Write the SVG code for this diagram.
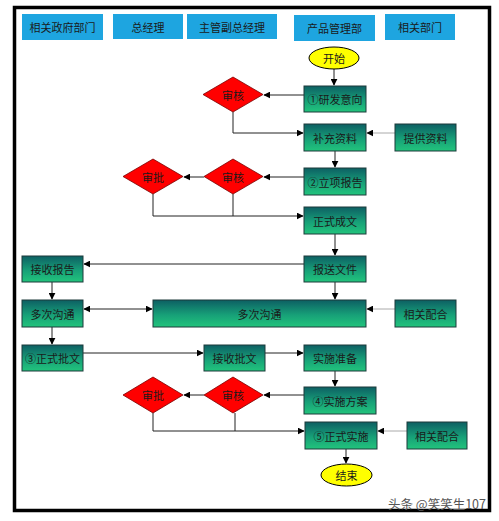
<svg xmlns="http://www.w3.org/2000/svg" width="499" height="521" viewBox="0 0 499 521">
<defs>
<linearGradient id="g" x1="0" y1="0" x2="0" y2="1">
<stop offset="0" stop-color="#0d5f63"/>
<stop offset="0.55" stop-color="#17a078"/>
<stop offset="1" stop-color="#22c47c"/>
</linearGradient>
<marker id="a" viewBox="0 0 10 10" refX="9" refY="5" markerWidth="7" markerHeight="7" orient="auto-start-reverse" markerUnits="userSpaceOnUse">
<path d="M0,0 L10,5 L0,10 z" fill="#000"/>
</marker>
</defs>
<style>
text{font-family:"Noto Sans CJK SC","Liberation Sans",sans-serif;font-size:11px;text-anchor:middle;dominant-baseline:central;fill:#1a1a1a}
.h rect{fill:#1ea5e0}
.b rect{fill:url(#g);stroke:#1c3b3b;stroke-width:1}
.d polygon{fill:#ff0000;stroke:#7a0000;stroke-width:0.8}
.e ellipse{fill:#ffff00;stroke:#000;stroke-width:1}
.c path{fill:none;stroke:#222;stroke-width:1}
.c path.gr{stroke:#aaa}
.wm{font-family:"Noto Sans CJK SC",sans-serif;font-size:12.5px;fill:#555}
</style>
<rect x="0" y="0" width="499" height="521" fill="#fff"/>
<rect x="14.5" y="7.5" width="475" height="503" fill="none" stroke="#000" stroke-width="3.5"/>

<g id="h1" class="h"><rect x="22" y="14" width="81" height="26"/><text x="62.5" y="27">相关政府部门</text></g>
<g id="h2" class="h"><rect x="113" y="14" width="70" height="25"/><text x="148" y="26.5">总经理</text></g>
<g id="h3" class="h"><rect x="187" y="14" width="90" height="25"/><text x="232" y="26.5">主管副总经理</text></g>
<g id="h4" class="h"><rect x="294" y="15" width="81" height="26"/><text x="334.5" y="28">产品管理部</text></g>
<g id="h5" class="h"><rect x="385" y="14" width="70" height="26"/><text x="420" y="27">相关部门</text></g>

<g id="connectors" class="c">
<path d="M334,69 V85" marker-end="url(#a)"/>
<path d="M304,95 H264" marker-end="url(#a)"/>
<path d="M233,112 V133 H303" marker-end="url(#a)"/>
<path class="gr" d="M395,133 H367" marker-end="url(#a)"/>
<path d="M335,151 V167" marker-end="url(#a)"/>
<path d="M304,177 H264" marker-end="url(#a)"/>
<path d="M204,177 H184" marker-end="url(#a)"/>
<path d="M153,194 V216 H303" marker-end="url(#a)"/>
<path d="M233,194 V216"/>
<path d="M335,234 V255" marker-end="url(#a)"/>
<path d="M304,264 H84" marker-end="url(#a)"/>
<path d="M52,282 V299" marker-end="url(#a)"/>
<path d="M335,282 V299" marker-end="url(#a)"/>
<path d="M84,309 H152" marker-start="url(#a)" marker-end="url(#a)"/>
<path class="gr" d="M395,309 H367" marker-end="url(#a)"/>
<path d="M52,327 V344" marker-end="url(#a)"/>
<path d="M83,353 H203" marker-end="url(#a)"/>
<path d="M265,353 H303" marker-end="url(#a)"/>
<path d="M335,371 V386" marker-end="url(#a)"/>
<path d="M304,395 H264" marker-end="url(#a)"/>
<path d="M204,395 H184" marker-end="url(#a)"/>
<path d="M153,413 V431 H304" marker-end="url(#a)"/>
<path d="M235,413 V431"/>
<path class="gr" d="M407,431 H378" marker-end="url(#a)"/>
<path d="M346,449 V463" marker-end="url(#a)"/>
</g>

<g id="start" class="e"><ellipse cx="334" cy="58" rx="25" ry="11"/><text x="334" y="58">开始</text></g>
<g id="n1" class="b"><rect x="304" y="86" width="62" height="26"/><text x="335" y="99">①研发意向</text></g>
<g id="d1" class="d"><polygon points="233,77 263,94.5 233,112 203,94.5"/><text x="233" y="94.5" font-size="10">审核</text></g>
<g id="n2" class="b"><rect x="304" y="124" width="62" height="27"/><text x="335" y="137.5">补充资料</text></g>
<g id="n3" class="b"><rect x="395" y="124" width="61" height="27"/><text x="425.5" y="137.5">提供资料</text></g>
<g id="n4" class="b"><rect x="304" y="168" width="62" height="27"/><text x="335" y="181.5">②立项报告</text></g>
<g id="d2" class="d"><polygon points="233,159 263,176.5 233,194 204,176.5"/><text x="233" y="176.5" font-size="10">审核</text></g>
<g id="d3" class="d"><polygon points="153,159 183,176.5 153,194 123,176.5"/><text x="153" y="176.5" font-size="10">审批</text></g>
<g id="n5" class="b"><rect x="304" y="207" width="62" height="27"/><text x="335" y="220.5">正式成文</text></g>
<g id="n6" class="b"><rect x="304" y="256" width="62" height="26"/><text x="335" y="269">报送文件</text></g>
<g id="n7" class="b"><rect x="22" y="256" width="61" height="26"/><text x="52.5" y="269">接收报告</text></g>
<g id="n8" class="b"><rect x="22" y="300" width="61" height="27"/><text x="52.5" y="313.5">多次沟通</text></g>
<g id="n9" class="b"><rect x="153" y="300" width="213" height="27"/><text x="259.5" y="313.5">多次沟通</text></g>
<g id="n10" class="b"><rect x="395" y="300" width="61" height="27"/><text x="425.5" y="313.5">相关配合</text></g>
<g id="n11" class="b"><rect x="22" y="345" width="61" height="26"/><text x="52.5" y="358">③正式批文</text></g>
<g id="n12" class="b"><rect x="204" y="345" width="61" height="26"/><text x="234.5" y="358">接收批文</text></g>
<g id="n13" class="b"><rect x="304" y="345" width="62" height="26"/><text x="335" y="358">实施准备</text></g>
<g id="n14" class="b"><rect x="304" y="387" width="72" height="27"/><text x="340" y="400.5">④实施方案</text></g>
<g id="d4" class="d"><polygon points="233,377 263,395 233,413 204,395"/><text x="233" y="395" font-size="10">审核</text></g>
<g id="d5" class="d"><polygon points="153,377 183,395 153,413 123,395"/><text x="153" y="395" font-size="10">审批</text></g>
<g id="n15" class="b"><rect x="305" y="422" width="72" height="27"/><text x="341" y="435.5">⑤正式实施</text></g>
<g id="n16" class="b"><rect x="407" y="422" width="60" height="27"/><text x="437" y="435.5">相关配合</text></g>
<g id="end" class="e"><ellipse cx="346.5" cy="475" rx="25.5" ry="11"/><text x="346.5" y="475">结束</text></g>

<text class="wm" x="437" y="503">头条 @笑笑生107</text>
</svg>
